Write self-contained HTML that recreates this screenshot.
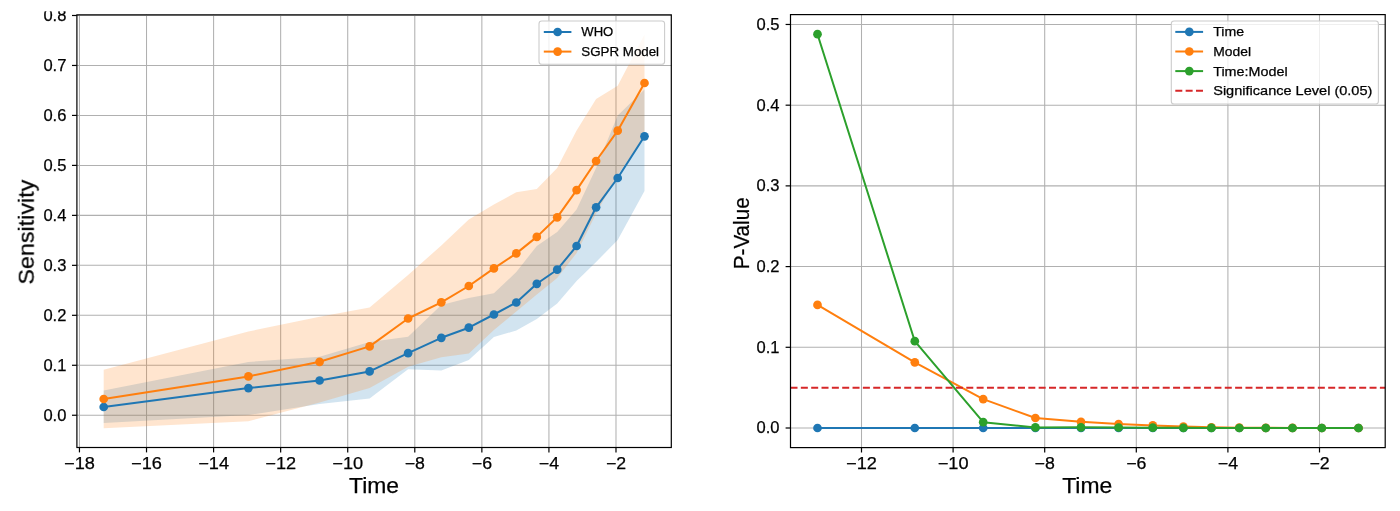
<!DOCTYPE html>
<html><head><meta charset="utf-8"><title>chart</title>
<style>html,body{margin:0;padding:0;background:#fff;overflow:hidden}svg{display:block}</style>
</head><body>
<svg width="1400" height="511" viewBox="0 0 1400 511" font-family="Liberation Sans, sans-serif" fill="#000">
<rect x="0" y="0" width="1400" height="511" fill="#fff"/>
<g stroke="#b0b0b0" stroke-width="1.05">
<line x1="79.45" y1="14.85" x2="79.45" y2="447.5"/>
<line x1="146.52" y1="14.85" x2="146.52" y2="447.5"/>
<line x1="213.59" y1="14.85" x2="213.59" y2="447.5"/>
<line x1="280.65" y1="14.85" x2="280.65" y2="447.5"/>
<line x1="347.72" y1="14.85" x2="347.72" y2="447.5"/>
<line x1="414.79" y1="14.85" x2="414.79" y2="447.5"/>
<line x1="481.86" y1="14.85" x2="481.86" y2="447.5"/>
<line x1="548.93" y1="14.85" x2="548.93" y2="447.5"/>
<line x1="615.99" y1="14.85" x2="615.99" y2="447.5"/>
<line x1="76.9" y1="415.25" x2="671.3" y2="415.25"/>
<line x1="76.9" y1="365.28" x2="671.3" y2="365.28"/>
<line x1="76.9" y1="315.31" x2="671.3" y2="315.31"/>
<line x1="76.9" y1="265.34" x2="671.3" y2="265.34"/>
<line x1="76.9" y1="215.37" x2="671.3" y2="215.37"/>
<line x1="76.9" y1="165.40" x2="671.3" y2="165.40"/>
<line x1="76.9" y1="115.43" x2="671.3" y2="115.43"/>
<line x1="76.9" y1="65.46" x2="671.3" y2="65.46"/>
<line x1="76.9" y1="15.49" x2="671.3" y2="15.49"/>
</g>
<polygon points="103.7,390.5 248.4,362.0 319.6,356.7 369.6,342.0 408.1,336.8 441.3,305.0 468.8,298.0 493.9,293.3 516.3,272.0 536.8,246.0 557.2,232.0 576.6,209.5 596.1,168.0 617.7,115.5 644.5,89.5 644.5,191.0 617.7,240.0 596.1,262.0 576.6,281.0 557.2,303.5 536.8,319.0 516.3,330.5 493.9,337.0 468.8,360.0 441.3,370.4 408.1,369.3 369.6,398.5 319.6,404.0 248.4,415.0 103.7,422.9" fill="#1f77b4" fill-opacity="0.2"/>
<polygon points="103.7,369.7 248.4,331.5 319.6,316.7 369.6,307.5 408.1,275.0 441.3,245.5 468.8,219.5 493.9,204.5 516.3,192.3 536.8,189.0 557.2,168.0 576.6,130.5 596.1,99.0 617.7,85.8 644.5,34.5 644.5,137.0 617.7,175.0 596.1,213.5 576.6,253.0 557.2,278.0 536.8,294.5 516.3,311.5 493.9,330.0 468.8,353.4 441.3,357.3 408.1,366.7 369.6,388.0 319.6,402.5 248.4,421.3 103.7,428.2" fill="#ff7f0e" fill-opacity="0.2"/>
<polyline points="103.7,407.0 248.4,388.1 319.6,380.5 369.6,371.4 408.1,353.2 441.3,337.8 468.8,327.7 493.9,314.5 516.3,302.5 536.8,283.8 557.2,269.7 576.6,246.0 596.1,207.3 617.7,178.0 644.5,136.3" fill="none" stroke="#1f77b4" stroke-width="2" stroke-linejoin="round"/>
<circle cx="103.7" cy="407.0" r="4.35" fill="#1f77b4"/>
<circle cx="248.4" cy="388.1" r="4.35" fill="#1f77b4"/>
<circle cx="319.6" cy="380.5" r="4.35" fill="#1f77b4"/>
<circle cx="369.6" cy="371.4" r="4.35" fill="#1f77b4"/>
<circle cx="408.1" cy="353.2" r="4.35" fill="#1f77b4"/>
<circle cx="441.3" cy="337.8" r="4.35" fill="#1f77b4"/>
<circle cx="468.8" cy="327.7" r="4.35" fill="#1f77b4"/>
<circle cx="493.9" cy="314.5" r="4.35" fill="#1f77b4"/>
<circle cx="516.3" cy="302.5" r="4.35" fill="#1f77b4"/>
<circle cx="536.8" cy="283.8" r="4.35" fill="#1f77b4"/>
<circle cx="557.2" cy="269.7" r="4.35" fill="#1f77b4"/>
<circle cx="576.6" cy="246.0" r="4.35" fill="#1f77b4"/>
<circle cx="596.1" cy="207.3" r="4.35" fill="#1f77b4"/>
<circle cx="617.7" cy="178.0" r="4.35" fill="#1f77b4"/>
<circle cx="644.5" cy="136.3" r="4.35" fill="#1f77b4"/>
<polyline points="103.7,399.0 248.4,376.4 319.6,361.8 369.6,346.4 408.1,318.5 441.3,302.3 468.8,286.0 493.9,268.4 516.3,253.4 536.8,236.9 557.2,217.3 576.6,190.1 596.1,161.0 617.7,130.7 644.5,83.0" fill="none" stroke="#ff7f0e" stroke-width="2" stroke-linejoin="round"/>
<circle cx="103.7" cy="399.0" r="4.35" fill="#ff7f0e"/>
<circle cx="248.4" cy="376.4" r="4.35" fill="#ff7f0e"/>
<circle cx="319.6" cy="361.8" r="4.35" fill="#ff7f0e"/>
<circle cx="369.6" cy="346.4" r="4.35" fill="#ff7f0e"/>
<circle cx="408.1" cy="318.5" r="4.35" fill="#ff7f0e"/>
<circle cx="441.3" cy="302.3" r="4.35" fill="#ff7f0e"/>
<circle cx="468.8" cy="286.0" r="4.35" fill="#ff7f0e"/>
<circle cx="493.9" cy="268.4" r="4.35" fill="#ff7f0e"/>
<circle cx="516.3" cy="253.4" r="4.35" fill="#ff7f0e"/>
<circle cx="536.8" cy="236.9" r="4.35" fill="#ff7f0e"/>
<circle cx="557.2" cy="217.3" r="4.35" fill="#ff7f0e"/>
<circle cx="576.6" cy="190.1" r="4.35" fill="#ff7f0e"/>
<circle cx="596.1" cy="161.0" r="4.35" fill="#ff7f0e"/>
<circle cx="617.7" cy="130.7" r="4.35" fill="#ff7f0e"/>
<circle cx="644.5" cy="83.0" r="4.35" fill="#ff7f0e"/>
<rect x="76.9" y="14.85" width="594.4" height="432.65" fill="none" stroke="#000" stroke-width="1.2"/>
<g stroke="#000" stroke-width="1.2">
<line x1="79.45" y1="447.5" x2="79.45" y2="452.4"/>
<line x1="146.52" y1="447.5" x2="146.52" y2="452.4"/>
<line x1="213.59" y1="447.5" x2="213.59" y2="452.4"/>
<line x1="280.65" y1="447.5" x2="280.65" y2="452.4"/>
<line x1="347.72" y1="447.5" x2="347.72" y2="452.4"/>
<line x1="414.79" y1="447.5" x2="414.79" y2="452.4"/>
<line x1="481.86" y1="447.5" x2="481.86" y2="452.4"/>
<line x1="548.93" y1="447.5" x2="548.93" y2="452.4"/>
<line x1="615.99" y1="447.5" x2="615.99" y2="452.4"/>
<line x1="76.9" y1="415.25" x2="72.0" y2="415.25"/>
<line x1="76.9" y1="365.28" x2="72.0" y2="365.28"/>
<line x1="76.9" y1="315.31" x2="72.0" y2="315.31"/>
<line x1="76.9" y1="265.34" x2="72.0" y2="265.34"/>
<line x1="76.9" y1="215.37" x2="72.0" y2="215.37"/>
<line x1="76.9" y1="165.40" x2="72.0" y2="165.40"/>
<line x1="76.9" y1="115.43" x2="72.0" y2="115.43"/>
<line x1="76.9" y1="65.46" x2="72.0" y2="65.46"/>
<line x1="76.9" y1="15.49" x2="72.0" y2="15.49"/>
</g>
<rect x="539" y="21.0" width="125.6" height="43.3" rx="2.8" fill="#fff" fill-opacity="0.8" stroke="#ccc" stroke-width="1.1"/>
<line x1="543.8" y1="32.0" x2="571.4" y2="32.0" stroke="#1f77b4" stroke-width="2"/>
<circle cx="557.6" cy="32.0" r="4.35" fill="#1f77b4"/>
<line x1="543.8" y1="51.6" x2="571.4" y2="51.6" stroke="#ff7f0e" stroke-width="2"/>
<circle cx="557.6" cy="51.6" r="4.35" fill="#ff7f0e"/>
<g stroke="#b0b0b0" stroke-width="1.05">
<line x1="861.50" y1="14.6" x2="861.50" y2="447.6"/>
<line x1="953.10" y1="14.6" x2="953.10" y2="447.6"/>
<line x1="1044.70" y1="14.6" x2="1044.70" y2="447.6"/>
<line x1="1136.30" y1="14.6" x2="1136.30" y2="447.6"/>
<line x1="1227.90" y1="14.6" x2="1227.90" y2="447.6"/>
<line x1="1319.50" y1="14.6" x2="1319.50" y2="447.6"/>
<line x1="790.5" y1="428.00" x2="1385.2" y2="428.00"/>
<line x1="790.5" y1="347.29" x2="1385.2" y2="347.29"/>
<line x1="790.5" y1="266.59" x2="1385.2" y2="266.59"/>
<line x1="790.5" y1="185.88" x2="1385.2" y2="185.88"/>
<line x1="790.5" y1="105.18" x2="1385.2" y2="105.18"/>
<line x1="790.5" y1="24.47" x2="1385.2" y2="24.47"/>
</g>
<polyline points="817.5,428.0 914.8,428.0 983.2,428.0 1035.4,428.0 1081.0,428.0 1118.6,428.0 1152.8,428.0 1183.4,428.0 1211.4,428.0 1239.3,428.0 1265.8,428.0 1292.5,428.0 1321.8,428.0 1358.5,428.0" fill="none" stroke="#1f77b4" stroke-width="2" stroke-linejoin="round"/>
<circle cx="817.5" cy="428.0" r="4.35" fill="#1f77b4"/>
<circle cx="914.8" cy="428.0" r="4.35" fill="#1f77b4"/>
<circle cx="983.2" cy="428.0" r="4.35" fill="#1f77b4"/>
<circle cx="1035.4" cy="428.0" r="4.35" fill="#1f77b4"/>
<circle cx="1081.0" cy="428.0" r="4.35" fill="#1f77b4"/>
<circle cx="1118.6" cy="428.0" r="4.35" fill="#1f77b4"/>
<circle cx="1152.8" cy="428.0" r="4.35" fill="#1f77b4"/>
<circle cx="1183.4" cy="428.0" r="4.35" fill="#1f77b4"/>
<circle cx="1211.4" cy="428.0" r="4.35" fill="#1f77b4"/>
<circle cx="1239.3" cy="428.0" r="4.35" fill="#1f77b4"/>
<circle cx="1265.8" cy="428.0" r="4.35" fill="#1f77b4"/>
<circle cx="1292.5" cy="428.0" r="4.35" fill="#1f77b4"/>
<circle cx="1321.8" cy="428.0" r="4.35" fill="#1f77b4"/>
<circle cx="1358.5" cy="428.0" r="4.35" fill="#1f77b4"/>
<polyline points="817.5,304.9 914.8,362.3 983.2,399.1 1035.4,418.0 1081.0,421.8 1118.6,424.0 1152.8,425.4 1183.4,426.5 1211.4,427.3 1239.3,427.7 1265.8,427.8 1292.5,427.9 1321.8,428.0 1358.5,428.0" fill="none" stroke="#ff7f0e" stroke-width="2" stroke-linejoin="round"/>
<circle cx="817.5" cy="304.9" r="4.35" fill="#ff7f0e"/>
<circle cx="914.8" cy="362.3" r="4.35" fill="#ff7f0e"/>
<circle cx="983.2" cy="399.1" r="4.35" fill="#ff7f0e"/>
<circle cx="1035.4" cy="418.0" r="4.35" fill="#ff7f0e"/>
<circle cx="1081.0" cy="421.8" r="4.35" fill="#ff7f0e"/>
<circle cx="1118.6" cy="424.0" r="4.35" fill="#ff7f0e"/>
<circle cx="1152.8" cy="425.4" r="4.35" fill="#ff7f0e"/>
<circle cx="1183.4" cy="426.5" r="4.35" fill="#ff7f0e"/>
<circle cx="1211.4" cy="427.3" r="4.35" fill="#ff7f0e"/>
<circle cx="1239.3" cy="427.7" r="4.35" fill="#ff7f0e"/>
<circle cx="1265.8" cy="427.8" r="4.35" fill="#ff7f0e"/>
<circle cx="1292.5" cy="427.9" r="4.35" fill="#ff7f0e"/>
<circle cx="1321.8" cy="428.0" r="4.35" fill="#ff7f0e"/>
<circle cx="1358.5" cy="428.0" r="4.35" fill="#ff7f0e"/>
<polyline points="817.5,34.2 914.8,341.2 983.2,422.2 1035.4,427.4 1081.0,427.3 1118.6,427.5 1152.8,427.7 1183.4,427.8 1211.4,427.9 1239.3,428.0 1265.8,428.0 1292.5,428.0 1321.8,428.0 1358.5,428.0" fill="none" stroke="#2ca02c" stroke-width="2" stroke-linejoin="round"/>
<circle cx="817.5" cy="34.2" r="4.35" fill="#2ca02c"/>
<circle cx="914.8" cy="341.2" r="4.35" fill="#2ca02c"/>
<circle cx="983.2" cy="422.2" r="4.35" fill="#2ca02c"/>
<circle cx="1035.4" cy="427.4" r="4.35" fill="#2ca02c"/>
<circle cx="1081.0" cy="427.3" r="4.35" fill="#2ca02c"/>
<circle cx="1118.6" cy="427.5" r="4.35" fill="#2ca02c"/>
<circle cx="1152.8" cy="427.7" r="4.35" fill="#2ca02c"/>
<circle cx="1183.4" cy="427.8" r="4.35" fill="#2ca02c"/>
<circle cx="1211.4" cy="427.9" r="4.35" fill="#2ca02c"/>
<circle cx="1239.3" cy="428.0" r="4.35" fill="#2ca02c"/>
<circle cx="1265.8" cy="428.0" r="4.35" fill="#2ca02c"/>
<circle cx="1292.5" cy="428.0" r="4.35" fill="#2ca02c"/>
<circle cx="1321.8" cy="428.0" r="4.35" fill="#2ca02c"/>
<circle cx="1358.5" cy="428.0" r="4.35" fill="#2ca02c"/>
<line x1="790.5" y1="387.65" x2="1385.2" y2="387.65" stroke="#d62728" stroke-width="2" stroke-dasharray="7 3.34"/>
<rect x="790.5" y="14.6" width="594.7" height="433.0" fill="none" stroke="#000" stroke-width="1.2"/>
<g stroke="#000" stroke-width="1.2">
<line x1="861.50" y1="447.6" x2="861.50" y2="452.5"/>
<line x1="953.10" y1="447.6" x2="953.10" y2="452.5"/>
<line x1="1044.70" y1="447.6" x2="1044.70" y2="452.5"/>
<line x1="1136.30" y1="447.6" x2="1136.30" y2="452.5"/>
<line x1="1227.90" y1="447.6" x2="1227.90" y2="452.5"/>
<line x1="1319.50" y1="447.6" x2="1319.50" y2="452.5"/>
<line x1="790.5" y1="428.00" x2="785.6" y2="428.00"/>
<line x1="790.5" y1="347.29" x2="785.6" y2="347.29"/>
<line x1="790.5" y1="266.59" x2="785.6" y2="266.59"/>
<line x1="790.5" y1="185.88" x2="785.6" y2="185.88"/>
<line x1="790.5" y1="105.18" x2="785.6" y2="105.18"/>
<line x1="790.5" y1="24.47" x2="785.6" y2="24.47"/>
</g>
<rect x="1171.3" y="21.0" width="207.1" height="83.0" rx="2.8" fill="#fff" fill-opacity="0.8" stroke="#ccc" stroke-width="1.1"/>
<line x1="1175.3" y1="31.9" x2="1203.1" y2="31.9" stroke="#1f77b4" stroke-width="2"/>
<circle cx="1189.3" cy="31.9" r="4.35" fill="#1f77b4"/>
<line x1="1175.3" y1="51.5" x2="1203.1" y2="51.5" stroke="#ff7f0e" stroke-width="2"/>
<circle cx="1189.3" cy="51.5" r="4.35" fill="#ff7f0e"/>
<line x1="1175.3" y1="71.1" x2="1203.1" y2="71.1" stroke="#2ca02c" stroke-width="2"/>
<circle cx="1189.3" cy="71.1" r="4.35" fill="#2ca02c"/>
<line x1="1175.3" y1="90.7" x2="1203.1" y2="90.7" stroke="#d62728" stroke-width="2" stroke-dasharray="7 3.34"/>
<g opacity="0.999" stroke="#000" stroke-width="0.25">
<text x="79.5" y="468.6" font-size="16" text-anchor="middle" textLength="30.8" lengthAdjust="spacingAndGlyphs" >−18</text>
<text x="146.5" y="468.6" font-size="16" text-anchor="middle" textLength="30.8" lengthAdjust="spacingAndGlyphs" >−16</text>
<text x="213.6" y="468.6" font-size="16" text-anchor="middle" textLength="30.8" lengthAdjust="spacingAndGlyphs" >−14</text>
<text x="280.7" y="468.6" font-size="16" text-anchor="middle" textLength="30.8" lengthAdjust="spacingAndGlyphs" >−12</text>
<text x="347.7" y="468.6" font-size="16" text-anchor="middle" textLength="30.8" lengthAdjust="spacingAndGlyphs" >−10</text>
<text x="414.8" y="468.6" font-size="16" text-anchor="middle" textLength="20.2" lengthAdjust="spacingAndGlyphs" >−8</text>
<text x="481.9" y="468.6" font-size="16" text-anchor="middle" textLength="20.2" lengthAdjust="spacingAndGlyphs" >−6</text>
<text x="548.9" y="468.6" font-size="16" text-anchor="middle" textLength="20.2" lengthAdjust="spacingAndGlyphs" >−4</text>
<text x="616.0" y="468.6" font-size="16" text-anchor="middle" textLength="20.2" lengthAdjust="spacingAndGlyphs" >−2</text>
<text x="66.4" y="420.6" font-size="16" text-anchor="end" textLength="23.0" lengthAdjust="spacingAndGlyphs" >0.0</text>
<text x="66.4" y="370.7" font-size="16" text-anchor="end" textLength="23.0" lengthAdjust="spacingAndGlyphs" >0.1</text>
<text x="66.4" y="320.7" font-size="16" text-anchor="end" textLength="23.0" lengthAdjust="spacingAndGlyphs" >0.2</text>
<text x="66.4" y="270.7" font-size="16" text-anchor="end" textLength="23.0" lengthAdjust="spacingAndGlyphs" >0.3</text>
<text x="66.4" y="220.8" font-size="16" text-anchor="end" textLength="23.0" lengthAdjust="spacingAndGlyphs" >0.4</text>
<text x="66.4" y="170.8" font-size="16" text-anchor="end" textLength="23.0" lengthAdjust="spacingAndGlyphs" >0.5</text>
<text x="66.4" y="120.8" font-size="16" text-anchor="end" textLength="23.0" lengthAdjust="spacingAndGlyphs" >0.6</text>
<text x="66.4" y="70.9" font-size="16" text-anchor="end" textLength="23.0" lengthAdjust="spacingAndGlyphs" >0.7</text>
<text x="66.4" y="20.9" font-size="16" text-anchor="end" textLength="23.0" lengthAdjust="spacingAndGlyphs" >0.8</text>
<text x="374.0" y="493.1" font-size="21.2" text-anchor="middle" textLength="50" lengthAdjust="spacingAndGlyphs" >Time</text>
<text x="33.9" y="232.2" font-size="21.2" text-anchor="middle" textLength="105" lengthAdjust="spacingAndGlyphs" transform="rotate(-90 33.9 232.2)" >Sensitivity</text>
<text x="581.3" y="36.1" font-size="12.6" text-anchor="start" textLength="32.0" lengthAdjust="spacingAndGlyphs" >WHO</text>
<text x="581.3" y="56.0" font-size="12.6" text-anchor="start" textLength="77.8" lengthAdjust="spacingAndGlyphs" >SGPR Model</text>
<text x="861.5" y="468.5" font-size="16" text-anchor="middle" textLength="30.8" lengthAdjust="spacingAndGlyphs" >−12</text>
<text x="953.1" y="468.5" font-size="16" text-anchor="middle" textLength="30.8" lengthAdjust="spacingAndGlyphs" >−10</text>
<text x="1044.7" y="468.5" font-size="16" text-anchor="middle" textLength="20.2" lengthAdjust="spacingAndGlyphs" >−8</text>
<text x="1136.3" y="468.5" font-size="16" text-anchor="middle" textLength="20.2" lengthAdjust="spacingAndGlyphs" >−6</text>
<text x="1227.9" y="468.5" font-size="16" text-anchor="middle" textLength="20.2" lengthAdjust="spacingAndGlyphs" >−4</text>
<text x="1319.5" y="468.5" font-size="16" text-anchor="middle" textLength="20.2" lengthAdjust="spacingAndGlyphs" >−2</text>
<text x="779.5" y="433.4" font-size="16" text-anchor="end" textLength="23.0" lengthAdjust="spacingAndGlyphs" >0.0</text>
<text x="779.5" y="352.7" font-size="16" text-anchor="end" textLength="23.0" lengthAdjust="spacingAndGlyphs" >0.1</text>
<text x="779.5" y="272.0" font-size="16" text-anchor="end" textLength="23.0" lengthAdjust="spacingAndGlyphs" >0.2</text>
<text x="779.5" y="191.3" font-size="16" text-anchor="end" textLength="23.0" lengthAdjust="spacingAndGlyphs" >0.3</text>
<text x="779.5" y="110.6" font-size="16" text-anchor="end" textLength="23.0" lengthAdjust="spacingAndGlyphs" >0.4</text>
<text x="779.5" y="29.9" font-size="16" text-anchor="end" textLength="23.0" lengthAdjust="spacingAndGlyphs" >0.5</text>
<text x="1087.2" y="493.1" font-size="21.2" text-anchor="middle" textLength="50" lengthAdjust="spacingAndGlyphs" >Time</text>
<text x="749.2" y="233.3" font-size="21.2" text-anchor="middle" textLength="71.8" lengthAdjust="spacingAndGlyphs" transform="rotate(-90 749.2 233.3)" >P-Value</text>
<text x="1213.2" y="36.4" font-size="12.6" text-anchor="start" textLength="30.9" lengthAdjust="spacingAndGlyphs" >Time</text>
<text x="1213.2" y="56.0" font-size="12.6" text-anchor="start" textLength="37.8" lengthAdjust="spacingAndGlyphs" >Model</text>
<text x="1213.2" y="75.6" font-size="12.6" text-anchor="start" textLength="74.4" lengthAdjust="spacingAndGlyphs" >Time:Model</text>
<text x="1213.2" y="95.2" font-size="12.6" text-anchor="start" textLength="159.2" lengthAdjust="spacingAndGlyphs" >Significance Level (0.05)</text>
</g>
<rect x="0" y="0" width="1400" height="11.3" fill="#fff"/>
</svg>
</body></html>
